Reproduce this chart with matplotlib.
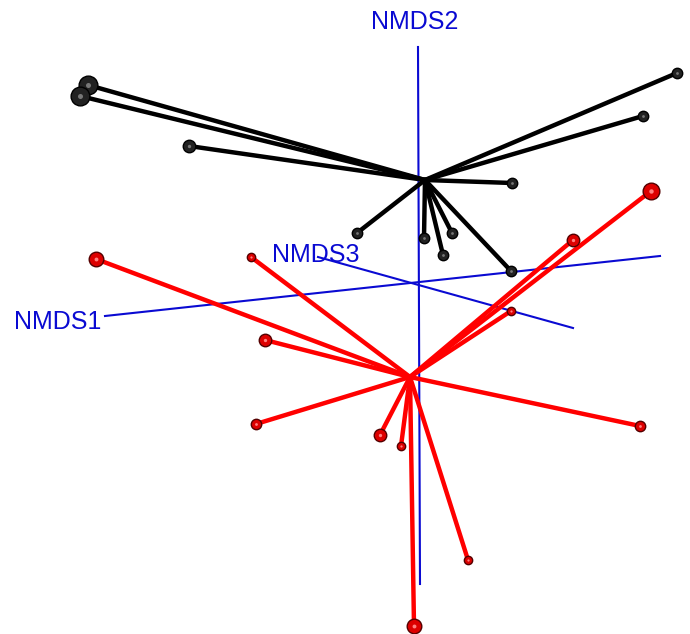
import numpy as np
import matplotlib.pyplot as plt

plt.rcParams['font.family'] = ['Liberation Sans', 'DejaVu Sans']

# projected NMDS positions (screen units of the 3D view)
black_center = (425, 180)
black_x = [88, 80, 189, 677, 643, 512, 357, 424, 452, 443, 511]
black_y = [85, 96, 146, 73, 116, 183, 233, 238, 233, 255, 271]
black_size = [9, 9, 6, 5, 5, 5, 5, 5, 5, 5, 5]

red_center = (410, 377)
red_x = [96, 251, 265, 256, 380, 401, 468, 414, 640, 511, 573, 651]
red_y = [259, 257, 340, 424, 435, 446, 560, 626, 426, 311, 240, 191]
red_size = [7, 4, 6, 5, 6, 4, 4, 7, 5, 4, 6, 8]

# axes of the 3D box
axis_names = ['NMDS1', 'NMDS2', 'NMDS3']
axis_start = [(105, 316), (418, 47), (318, 257)]
axis_end = [(660, 256), (420, 584), (573, 328)]
label_pos = [(58, 322), (415, 22), (316, 255)]

fig = plt.figure(figsize=(6.9, 6.34), dpi=100)
ax = fig.add_axes([0, 0, 1, 1])
ax.set_xlim(0, 690)
ax.set_ylim(634, 0)
ax.axis('off')

blue = '#0a0ad2'
for name, s, e, p in zip(axis_names, axis_start, axis_end, label_pos):
    ax.plot([s[0], e[0]], [s[1], e[1]], color=blue, lw=1.5, zorder=1)
    ax.text(p[0], p[1], name, color=blue, fontsize=18,
            ha='center', va='center', zorder=1)

for x, y, s in zip(black_x, black_y, black_size):
    ax.plot([black_center[0], x], [black_center[1], y], color='black',
            lw=3.2, solid_capstyle='round', zorder=2)
    ax.plot(x, y, 'o', ms=s * 1.5, color='#222222', mec='black', mew=1, zorder=3)
    ax.plot(x, y, 'o', ms=s * 0.4, color='#777777', mew=0, zorder=4)

for x, y, s in zip(red_x, red_y, red_size):
    ax.plot([red_center[0], x], [red_center[1], y], color='#ff0000',
            lw=3.2, solid_capstyle='round', zorder=2)
    ax.plot(x, y, 'o', ms=s * 1.5, color='#dd0000', mec='#550000', mew=1, zorder=3)
    ax.plot(x, y, 'o', ms=s * 0.4, color='#ff8080', mew=0, zorder=4)

plt.savefig('out.png', dpi=100)
